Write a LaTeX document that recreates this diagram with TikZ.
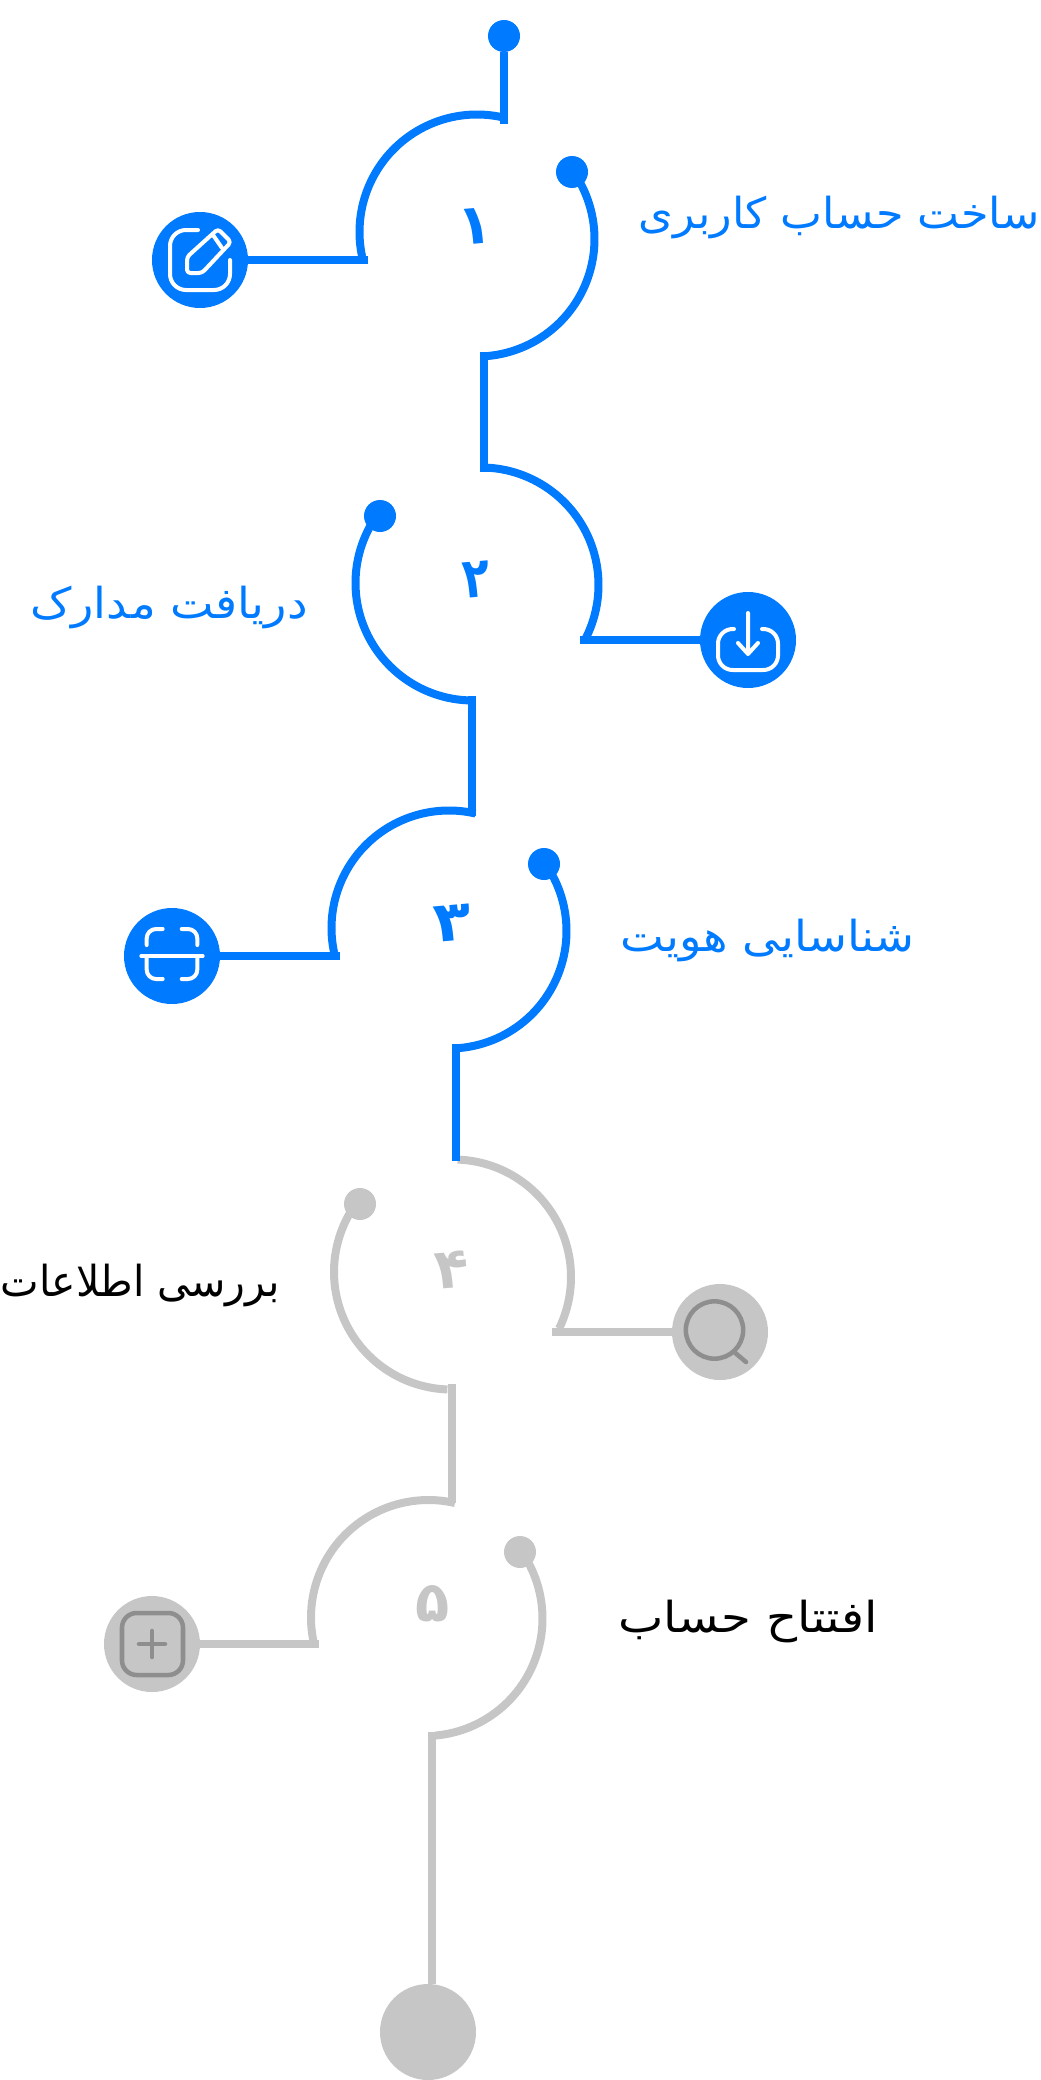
\documentclass[tikz,border=0pt]{standalone}
\usepackage{fontspec}
\TeXXeTstate=1
\newfontfamily\arabicfont[Script=Arabic]{DejaVu Sans}
\newfontfamily\arabicbold[Script=Arabic]{DejaVu Sans Bold}
\definecolor{blu}{HTML}{007AFF}
\definecolor{gry}{HTML}{C6C6C6}
\definecolor{dgr}{HTML}{8E8E8E}
\newcommand{\arcpx}[6]{\draw[#6] plot[smooth,domain=#4:#5,samples=50] ({#1+#3*cos(\x)},{#2-#3*sin(\x)});}
\tikzset{
  wire/.style={line width=6pt,line cap=butt},
  dotnode/.style={circle,fill=#1,inner sep=0pt,minimum size=24pt},
  badge/.style={circle,fill=#1,inner sep=0pt,minimum size=72pt},
  iconw/.style={draw=white,line width=3pt,line cap=round,line join=round},
  icong/.style={draw=dgr,line width=3.4pt,line cap=round,line join=round},
  numb/.style={font=\arabicbold\fontsize{42}{46}\selectfont,inner sep=0pt,text=#1},
  lab/.style={font=\arabicfont\fontsize{32}{38}\selectfont,inner sep=0pt,text=#1}
}
\begin{document}
\begin{tikzpicture}[x=0.75pt,y=-0.75pt]
\useasboundingbox (0,0) rectangle (1040,2080);
% nodes
\node[dotnode=blu] (start) at (504,36) {};
\node[dotnode=blu] (dot1) at (572,172) {};
\node[dotnode=blu] (dot2) at (380,516) {};
\node[dotnode=blu] (dot3) at (544,864) {};
\node[dotnode=gry] (dot4) at (360,1204) {};
\node[dotnode=gry] (dot5) at (520,1552) {};
\node[badge=blu] (b1) at (200,260) {};
\node[badge=blu] (b2) at (748,640) {};
\node[badge=blu] (b3) at (172,956) {};
\node[badge=gry] (b4) at (720,1332) {};
\node[badge=gry] (b5) at (152,1644) {};
\node[badge=gry] (endn) at (428,2032) {};
\coordinate (a1) at (504,124);
\coordinate (h1) at (368,260);
\coordinate (v1a) at (484,352);
\coordinate (v1b) at (484,472);
\coordinate (h2) at (580,640);
\coordinate (v2a) at (472,696);
\coordinate (v2b) at (472,816);
\coordinate (h3) at (340,956);
\coordinate (v3a) at (456,1044);
\coordinate (v3b) at (456,1161);
\coordinate (h4) at (552,1332);
\coordinate (v4a) at (452,1384);
\coordinate (v4b) at (452,1503);
\coordinate (h5) at (319,1644);
\coordinate (v5a) at (432,1732);
% arcs
\arcpx{477}{232}{117.5}{77}{192}{blu,wire}
\arcpx{477}{239}{117.5}{35}{-85}{blu,wire}
\arcpx{481}{585}{117.5}{88}{-28}{blu,wire}
\arcpx{473}{583}{117.5}{144}{268}{blu,wire}
\arcpx{449}{928}{117.5}{77}{192}{blu,wire}
\arcpx{449}{931}{117.5}{35}{-85}{blu,wire}
\arcpx{453.5}{1277}{117.5}{88}{-26}{gry,wire}
\arcpx{451.5}{1272}{117.5}{144}{268}{gry,wire}
\arcpx{428.5}{1617.5}{117.5}{77}{192}{gry,wire}
\arcpx{425}{1618.5}{117.5}{35}{-85}{gry,wire}
% connectors
\draw[blu,wire] (start) -- (a1);
\draw[blu,wire] (b1) -- (h1);
\draw[blu,wire] (v1a) -- (v1b);
\draw[blu,wire] (b2) -- (h2);
\draw[blu,wire] (v2a) -- (v2b);
\draw[blu,wire] (b3) -- (h3);
\draw[blu,wire] (v3a) -- (v3b);
\draw[gry,wire] (b4) -- (h4);
\draw[gry,wire] (v4a) -- (v4b);
\draw[gry,wire] (b5) -- (h5);
\draw[gry,wire] (v5a) -- (v5a |- endn.north);
% icon 1
\draw[iconw,rounded corners=12pt] (198,230) -- (170,230) -- (170,290) -- (230,290) -- (230,260);
\draw[iconw,rounded corners=2.5pt] (187,273) -- (187,257) -- (218,229) -- (231,242) -- (202,273) -- cycle;
\draw[iconw] (213,235) -- (222,248);
% icon 2
\draw[iconw,rounded corners=11pt] (734,629) -- (718,629) -- (718,670) -- (778,670) -- (778,629) -- (762,629);
\draw[iconw] (748,613) -- (748,654) (738,643) -- (748,654) -- (758,643);
% icon 3
\draw[iconw,rounded corners=7pt] (162.7,929) -- (146.7,929) -- (146.7,945);
\draw[iconw,rounded corners=7pt] (181.7,929) -- (197.3,929) -- (197.3,945);
\draw[iconw] (141.3,956) -- (202.7,956);
\draw[iconw,rounded corners=7pt] (146.7,956) -- (146.7,979) -- (162.7,979);
\draw[iconw,rounded corners=7pt] (197.3,956) -- (197.3,979) -- (181.7,979);
% icon 4
\draw[icong] (714.5,1330) circle[radius=21.5pt];
\draw[icong] (735,1352.7) -- (746,1362);
% icon 5
\draw[icong,rounded corners=11pt] (122,1613) rectangle (183,1675);
\draw[icong] (139,1644) -- (165,1644) (152,1631) -- (152,1657);
% numbers
\node[numb=blu,rotate=5] (n1) at (475,226) {\beginR ١\endR};
\node[numb=blu,rotate=5] (n2) at (477,580) {\scalebox{.8}[1]{\beginR ۲\endR}};
\node[numb=blu,rotate=5] (n3) at (453,923) {\scalebox{1.1}[1]{\beginR ۳\endR}};
\node[numb=gry,rotate=5] (n4) at (452,1270) {\beginR ۴\endR};
\node[numb=gry] (n5) at (433,1604) {\beginR ۵\endR};
% labels
\node[lab=blu,anchor=east] (t1) at (1040,217) {\scalebox{1.043}[1]{\beginR ساخت حساب کاربری\endR}};
\node[lab=blu,anchor=east] (t2) at (308,607) {\scalebox{1.083}[1]{\beginR دریافت مدارک\endR}};
\node[lab=blu,anchor=east] (t3) at (915,940) {\scalebox{1.09}[1]{\beginR شناسایی هویت\endR}};
\node[lab=black,anchor=east] (t4) at (280,1285) {\scalebox{0.96}[1]{\beginR بررسی اطلاعات\endR}};
\node[lab=black,anchor=east] (t5) at (878,1621) {\scalebox{1.129}[1]{\beginR افتتاح حساب\endR}};
\end{tikzpicture}
\end{document}
